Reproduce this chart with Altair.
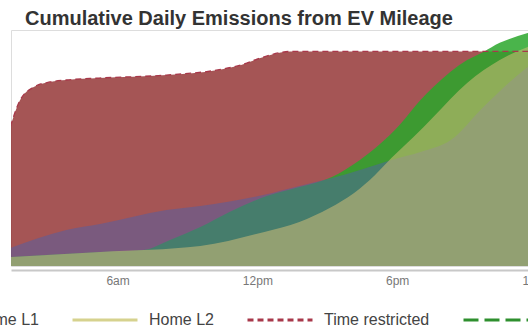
import altair as alt
import pandas as pd

# ---- data ----
series_order = ["Home L1", "Home L2", "Time restricted", "Workplace"]

red_hours = [1.4, 1.8, 2.4, 3.1, 3.8, 5.2, 8.1, 10.3, 11.3, 12.2, 13.0, 13.4, 24.0]
red_vals = [65.0, 77.0, 83.4, 85.8, 86.7, 87.6, 89.0, 91.4, 93.7, 97.2, 99.5, 100.0, 100.0]

green_hours = [1.4, 5.25, 7.1, 8.25, 9.55, 10.8, 12.4, 13.8, 15.2, 16.4, 18.1, 19.0, 19.55, 21.0, 21.7, 22.4, 23.6, 24.0]
green_vals = [4.2, 6.5, 7.4, 12.1, 18.2, 25.2, 32.6, 36.8, 41.5, 49.4, 65.7, 77.4, 83.4, 96.0, 99.8, 104.0, 108.6, 110.0]

l2_hours = [1.4, 5.25, 9.55, 12.3, 13.8, 15.1, 16.15, 17.05, 17.75, 18.7, 19.55, 21.0, 22.4, 23.6, 24.0]
l2_vals = [4.2, 6.5, 9.3, 15.9, 20.5, 27.0, 34.0, 42.4, 50.3, 60.1, 69.5, 85.3, 96.0, 102.1, 103.5]

l1_hours = [1.4, 3.8, 5.25, 8.1, 9.55, 12.25, 13.8, 15.2, 16.4, 17.75, 19.0, 20.3, 21.7, 23.6, 24.0]
l1_vals = [8.4, 16.8, 19.6, 26.1, 28.0, 33.1, 37.3, 41.0, 44.8, 49.4, 53.1, 58.7, 74.1, 92.8, 96.0]

tick_hours = [6, 12, 18, 24]

rows = []
for name, hs, vs in [
    ("Time restricted", red_hours, red_vals),
    ("Workplace", green_hours, green_vals),
    ("Home L1", l1_hours, l1_vals),
    ("Home L2", l2_hours, l2_vals),
]:
    for h, v in zip(hs, vs):
        rows.append({"series": name, "hour": h, "value": v})
df = pd.DataFrame(rows)

xscale = alt.Scale(domain=[1.426, 24.0], nice=False, zero=False)
yscale = alt.Scale(domain=[0, 110], nice=False)

xaxis = alt.Axis(
    values=tick_hours,
    labelExpr="datum.value == 6 ? '6am' : datum.value == 12 ? '12pm' : datum.value == 18 ? '6pm' : '12am'",
    title=None, grid=False, ticks=False, tickSize=0,
    domainColor="#c8c8c8", domainWidth=2, offset=4,
    labelFont="Liberation Sans", labelFontSize=12, labelColor="#777777",
    labelPadding=5, labelFlush=False, labelOverlap=False, labelBound=False,
)

area_styles = [
    ("Time restricted", "#8e2a2a", 0.8),
    ("Workplace", "#2aa72c", 0.85),
    ("Home L1", "#505fa8", 0.5),
    ("Home L2", "#d2be78", 0.55),
]

layers = []
for name, col, op in area_styles:
    layers.append(
        alt.Chart(df)
        .transform_filter(alt.datum.series == name)
        .mark_area(color=col, opacity=op, interpolate="monotone", clip=True)
        .encode(
            x=alt.X("hour:Q", scale=xscale, axis=xaxis),
            y=alt.Y("value:Q", scale=yscale, axis=None),
        )
    )

line_colors = ["#4a62b0", "#d6d28e", "#a8384a", "#2e8f2e"]
dashes = [[1, 0], [1, 0], [6, 4], [15, 6]]
legend_kw = dict(
    orient="none", legendX=-115, legendY=256, direction="horizontal", title=None,
    symbolType="stroke", symbolSize=4225, symbolStrokeWidth=3,
    labelFont="Liberation Sans", labelFontSize=16, labelColor="#444444",
    labelOffset=10, columnPadding=27, labelLimit=0,
)

lines = (
    alt.Chart(df)
    .transform_filter(alt.datum.series == "Time restricted")
    .mark_line(interpolate="monotone", clip=True, strokeWidth=1.3)
    .encode(
        x=alt.X("hour:Q", scale=xscale, axis=xaxis),
        y=alt.Y("value:Q", scale=yscale, axis=None),
        stroke=alt.Stroke("series:N", scale=alt.Scale(domain=series_order, range=line_colors),
                          legend=alt.Legend(**legend_kw)),
        strokeDash=alt.StrokeDash("series:N", scale=alt.Scale(domain=series_order, range=dashes),
                                  legend=alt.Legend(**legend_kw)),
    )
)
layers.append(lines)

chart = (
    alt.layer(*layers)
    .properties(
        width=526, height=236,
        padding={"left": 11, "top": 30, "right": -9, "bottom": 63},
        autosize=alt.AutoSizeParams(type="none"),
        title=alt.TitleParams(
            "Cumulative Daily Emissions from EV Mileage",
            anchor="start", frame="group", dx=14, offset=-15, baseline="alphabetic",
            font="Liberation Sans", fontSize=20, fontWeight="bold", color="#333333",
        ),
    )
    .configure_view(strokeWidth=0)
    .configure(background="white")
)

chart.save("out.html", embed_options={"renderer": "svg", "actions": False})
